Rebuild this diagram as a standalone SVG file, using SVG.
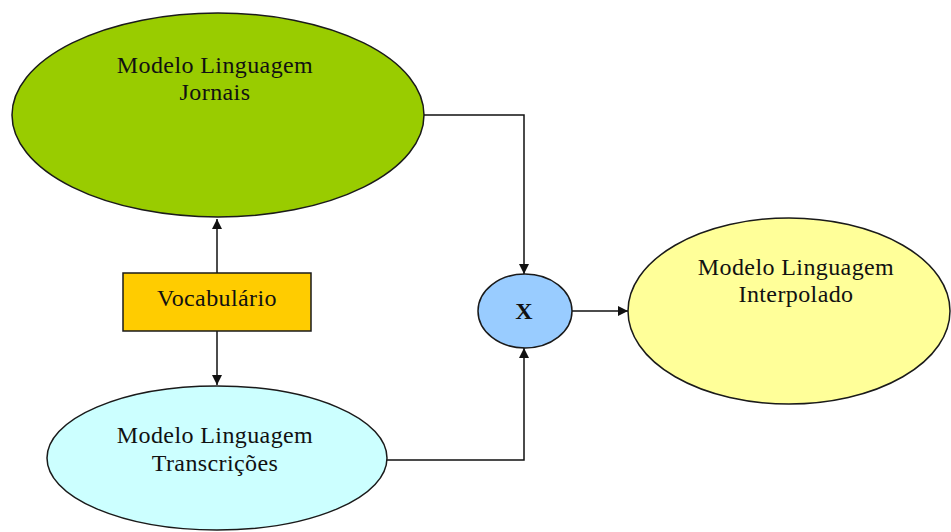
<svg xmlns="http://www.w3.org/2000/svg" width="951" height="532" viewBox="0 0 951 532">
  <style>
    .shape { stroke: #1a1a1a; stroke-width: 1.5; }
    .lbl { font-family: "Liberation Serif", "Times New Roman", serif; font-size: 24px; letter-spacing: 0.4px; fill: #111; text-anchor: middle; }
    .wire { fill: none; stroke: #111; stroke-width: 1.5; }
  </style>
  <defs>
    <marker id="arrow" viewBox="0 0 10 10" refX="10" refY="5" markerWidth="10" markerHeight="10" markerUnits="userSpaceOnUse" orient="auto">
      <path d="M0,0 L10,5 L0,10 z" fill="#111"/>
    </marker>
  </defs>
  <rect width="951" height="532" fill="#ffffff"/>

  <g id="connectors">
    <path class="wire" d="M217,273 V219" marker-end="url(#arrow)"/>
    <path class="wire" d="M217,331 V385" marker-end="url(#arrow)"/>
    <path class="wire" d="M424,115 H524 V274" marker-end="url(#arrow)"/>
    <path class="wire" d="M387,460 H524 V348" marker-end="url(#arrow)"/>
    <path class="wire" d="M572,311 H628" marker-end="url(#arrow)"/>
  </g>

  <g id="lm-jornais">
    <ellipse class="shape" cx="218" cy="115" rx="206" ry="102" fill="#99cc00"/>
    <text class="lbl" x="215" y="73">Modelo Linguagem</text>
    <text class="lbl" x="215" y="100">Jornais</text>
  </g>

  <g id="vocabulario">
    <rect class="shape" x="123" y="273" width="188" height="58" fill="#ffcc00"/>
    <text class="lbl" x="217" y="306" letter-spacing="0.6">Vocabulário</text>
  </g>

  <g id="lm-transcricoes">
    <ellipse class="shape" cx="217" cy="458" rx="170" ry="72" fill="#ccffff"/>
    <text class="lbl" x="215" y="443">Modelo Linguagem</text>
    <text class="lbl" x="215" y="471">Transcrições</text>
  </g>

  <g id="interpolacao">
    <ellipse class="shape" cx="525" cy="311" rx="47" ry="37" fill="#99ccff"/>
    <text class="lbl" x="524" y="319" font-size="26" font-weight="bold">X</text>
  </g>

  <g id="lm-interpolado">
    <ellipse class="shape" cx="789" cy="311" rx="161" ry="93" fill="#ffff99"/>
    <text class="lbl" x="796" y="275">Modelo Linguagem</text>
    <text class="lbl" x="796" y="302">Interpolado</text>
  </g>
</svg>
